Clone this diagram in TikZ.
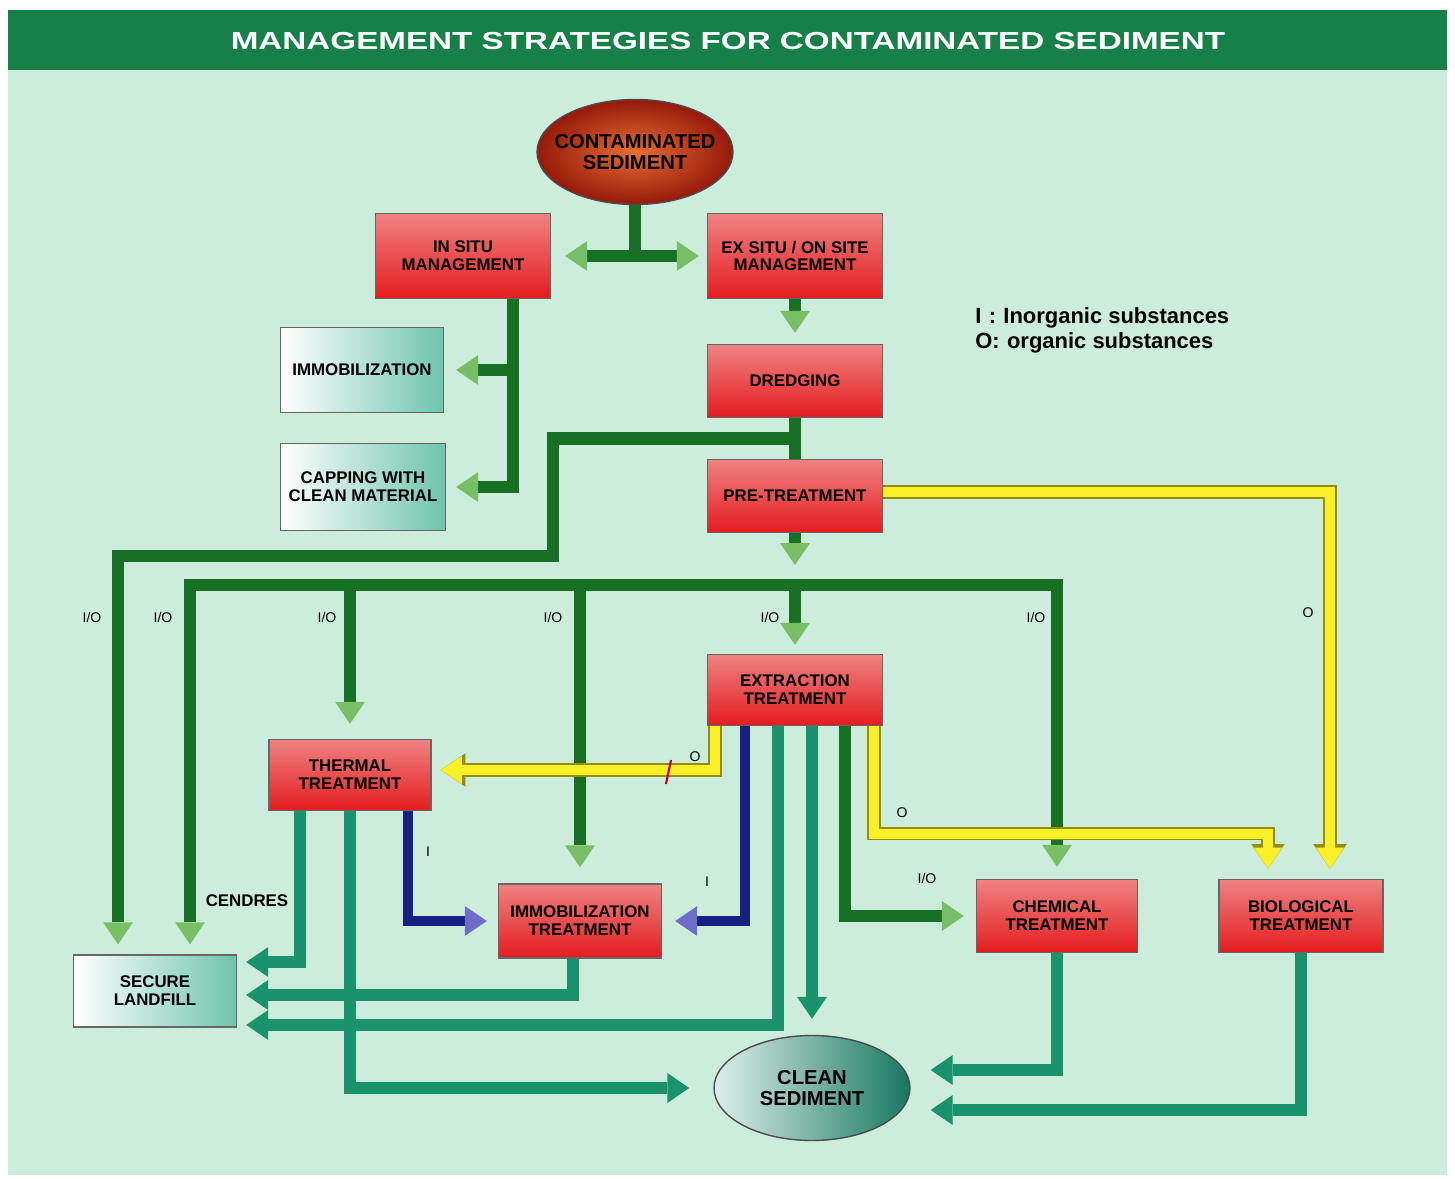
\documentclass[tikz,border=0pt]{standalone}
\usepackage{fontspec}
\setmainfont{Liberation Sans}
\usepackage{graphicx}
\usetikzlibrary{arrows.meta}
\usetikzlibrary{shapes.geometric}
\usetikzlibrary{calc}
\usetikzlibrary{positioning}
\definecolor{bgmint}{RGB}{204,236,220}
\definecolor{bandgreen}{RGB}{22,128,72}
\definecolor{flowgreen}{RGB}{24,112,36}
\definecolor{headgreen}{RGB}{120,190,100}
\definecolor{flowteal}{RGB}{26,146,108}
\definecolor{flownavy}{RGB}{22,32,128}
\definecolor{headnavy}{RGB}{110,110,200}
\definecolor{flowyellow}{RGB}{250,240,40}
\definecolor{edgeyellow}{RGB}{150,140,20}
\definecolor{boxred}{RGB}{228,28,30}
\definecolor{boxpink}{RGB}{240,130,130}
\definecolor{boxteal}{RGB}{110,196,172}
\definecolor{ovalred}{RGB}{150,25,10}
\definecolor{ovalorange}{RGB}{232,110,50}
\definecolor{ovalteal}{RGB}{30,150,120}
\newcommand{\boxtxt}{\fontsize{9.6}{10.2}\selectfont\bfseries}
\tikzset{
    redbox/.style={rectangle, draw=black!60, line width=0.8pt, top color=boxpink, bottom color=boxred,
        align=center, font=\boxtxt, minimum width=3.5cm, minimum height=1.46cm},
    whitebox/.style={rectangle, draw=black!60, line width=0.8pt, left color=white, right color=boxteal,
        align=center, font=\boxtxt, minimum width=3.26cm, minimum height=1.7cm},
    oval/.style={ellipse, draw=black!70, line width=0.8pt, align=center, inner xsep=-0.45cm, inner ysep=0pt,
        font=\fontsize{11.5}{12}\selectfont\bfseries, minimum width=3.92cm, minimum height=2.1cm},
    gflow/.style={draw=flowgreen, line width=7pt, -{Triangle[length=12.5pt,width=17pt,line width=0pt,color=headgreen]}},
    gboth/.style={draw=flowgreen, line width=7pt,
        {Triangle[length=12.5pt,width=17pt,line width=0pt,color=headgreen]}-{Triangle[length=12.5pt,width=17pt,line width=0pt,color=headgreen]}},
    tflow/.style={draw=flowteal, line width=7pt, -{Triangle[length=12.5pt,width=17pt,line width=0pt]}},
    nflow/.style={draw=flownavy, line width=6pt, -{Triangle[length=12.5pt,width=17pt,line width=0pt,color=headnavy]}},
    yflow/.style={draw=flowyellow, line width=5.5pt, -{Triangle[length=12pt,width=16pt,line width=0pt]},
        preaction={draw=edgeyellow, line width=7.5pt, -{Triangle[length=14pt,width=19pt,line width=0pt]}}},
    lbl/.style={font=\fontsize{8}{9}\selectfont, inner sep=1pt},
}

\begin{document}
\begin{tikzpicture}[x=0.02cm, y=-0.02cm]
    \useasboundingbox (0,0) rectangle (1455,1179);
    \fill[bgmint] (8,70) rectangle (1447,1175);
    \fill[bandgreen] (8,10) rectangle (1447,70);
    \node[text=white, font=\bfseries\fontsize{14}{16}\selectfont] (title) at (728,41)
        {\scalebox{1.35}[1]{MANAGEMENT STRATEGIES FOR CONTAMINATED SEDIMENT}};

    % boxes
    \node[oval, inner color=ovalorange, outer color=ovalred] (contam) at (635,152) {CONTAMINATED\\SEDIMENT};
    \node[redbox, minimum height=1.7cm] (insitu) at (463,256) {IN SITU\\MANAGEMENT};
    \node[redbox, minimum height=1.7cm] (exsitu) at (795,256) {EX SITU / ON SITE\\MANAGEMENT};
    \node[whitebox] (immob) at (362,370) {IMMOBILIZATION};
    \node[whitebox, minimum width=3.3cm, minimum height=1.74cm] (capping) at (363,487) {CAPPING WITH\\CLEAN MATERIAL};
    \node[redbox] (dredging) at (795,381) {DREDGING};
    \node[redbox] (pretreat) at (795,496) {PRE-TREATMENT};
    \node[redbox, minimum height=1.42cm] (extraction) at (795,690) {EXTRACTION\\TREATMENT};
    \node[redbox, minimum width=3.24cm, minimum height=1.42cm] (thermal) at (350,775) {THERMAL\\TREATMENT};
    \node[redbox, minimum width=3.26cm, minimum height=1.48cm] (immobtreat) at (580,921) {IMMOBILIZATION\\TREATMENT};
    \node[redbox, minimum width=3.22cm] (chemical) at (1057,916) {CHEMICAL\\TREATMENT};
    \node[redbox, minimum width=3.28cm] (biological) at (1301,916) {BIOLOGICAL\\TREATMENT};
    \node[whitebox, minimum height=1.44cm] (landfill) at (155,991) {SECURE\\LANDFILL};
    \node[oval, left color=white!85!ovalteal, middle color=ovalteal!85, right color=ovalteal!80!black] (cleansed) at (812,1088) {CLEAN\\SEDIMENT};

    \node[anchor=west, inner sep=0pt, font=\fontsize{12.5}{13}\selectfont\bfseries] (keyi) at (975,318) {I\,\,:\,\,Inorganic substances};
    \node[anchor=west, inner sep=0pt, font=\fontsize{12.5}{13}\selectfont\bfseries] (keyo) at (975,343) {O:\,\,organic substances};

    % green flows
    \coordinate (split) at ($(contam.south)+(0,51)$);
    \draw[gflow, -] (contam.south) -- (split);
    \draw[gboth, shorten <=0.28cm, shorten >=0.16cm] (insitu.east) -- (exsitu.west);
    \draw[gflow, shorten >=0.24cm] ($(insitu.south)+(50,0)$) |- (immob.east);
    \draw[gflow, shorten >=0.2cm] ($(insitu.south)+(50,0)$) |- (capping.east);
    \draw[gflow, shorten >=0.22cm] (exsitu) -- (dredging);
    \draw[gflow, -] (dredging) -- (pretreat);
    \coordinate (fork) at ($(dredging.south)!0.5!(pretreat.north)$);
    \coordinate (bendA) at (553,556);
    \draw[gflow, shorten >=0.2cm] (fork) -| (bendA) -| ($(landfill.north)+(-37,0)$);
    \coordinate (bus) at (795,585);
    \draw[gflow, shorten >=0.4cm] (pretreat) -- (bus);
    \draw[gboth, shorten <=0.2cm, shorten >=0.24cm] ($(landfill.north)+(35,0)$) |- (bus) -| (chemical.north);
    \draw[gflow, shorten >=0.3cm] (thermal.north |- bus) -- (thermal.north);
    \draw[gflow, shorten >=0.32cm] (immobtreat.north |- bus) -- (immobtreat.north);
    \draw[gflow, shorten >=0.18cm] (bus) -- (extraction.north);
    \draw[gflow, shorten >=0.24cm] ($(extraction.south)+(50,0)$) |- (chemical.west);

    % outputs
    \draw[tflow, shorten >=0.18cm] ($(extraction.south)+(-17,0)$) |- ($(landfill.east)+(0,34)$);
    \draw[tflow, shorten >=0.32cm] ($(extraction.south)+(17,0)$) -- (cleansed.north);
    \draw[tflow, shorten >=0.18cm] ($(thermal.south)+(-50,0)$) |- ($(landfill.east)+(0,-29)$);
    \draw[tflow, shorten >=0.48cm] (thermal.south) |- (cleansed.west);
    \draw[tflow, shorten >=0.18cm] ($(immobtreat.south)+(-7,0)$) |- ($(landfill.east)+(0,4)$);
    \draw[tflow, shorten >=0.4cm] (chemical.south) |- ($(cleansed.east)+(0,-18)$);
    \draw[tflow, shorten >=0.4cm] (biological.south) |- ($(cleansed.east)+(0,22)$);

    % inorganic / organic
    \draw[nflow, shorten >=0.26cm] ($(extraction.south)+(-50,0)$) |- (immobtreat.east);
    \draw[nflow, shorten >=0.22cm] ($(thermal.south)+(58,0)$) |- (immobtreat.west);
    \draw[yflow, shorten >=0.18cm] ($(extraction.south)+(-80,0)$) |- ($(thermal.east)+(0,-5)$);
    \draw[yflow, shorten >=0.2cm] ($(extraction.south)+(79,0)$) |- ($(biological.north)+(-33,-45)$) -- ($(biological.north)+(-33,0)$);
    \draw[yflow, shorten >=0.2cm] ($(pretreat.east)+(0,-4)$) -| ($(biological.north)+(29,0)$);
    \draw[red!75!black, line width=1.2pt] (666,784) -- (671,760);

    % labels
    \node[lbl] (lio1) at (92,617) {I/O};
    \node[lbl] (lio2) at (163,617) {I/O};
    \node[lbl] (lio3) at (327,617) {I/O};
    \node[lbl] (lio4) at (553,617) {I/O};
    \node[lbl] (lio5) at (770,617) {I/O};
    \node[lbl] (lio6) at (1036,617) {I/O};
    \node[lbl] (lio7) at (927,878) {I/O};
    \node[lbl] (lo1) at (1308,613) {O};
    \node[lbl] (lo2) at (695,757) {O};
    \node[lbl] (lo3) at (902,813) {O};
    \node[lbl] (li1) at (428,852) {I};
    \node[lbl] (li2) at (707,882) {I};
    \node[lbl, font=\boxtxt] (cendres) at (247,901) {CENDRES};
\end{tikzpicture}
\end{document}
